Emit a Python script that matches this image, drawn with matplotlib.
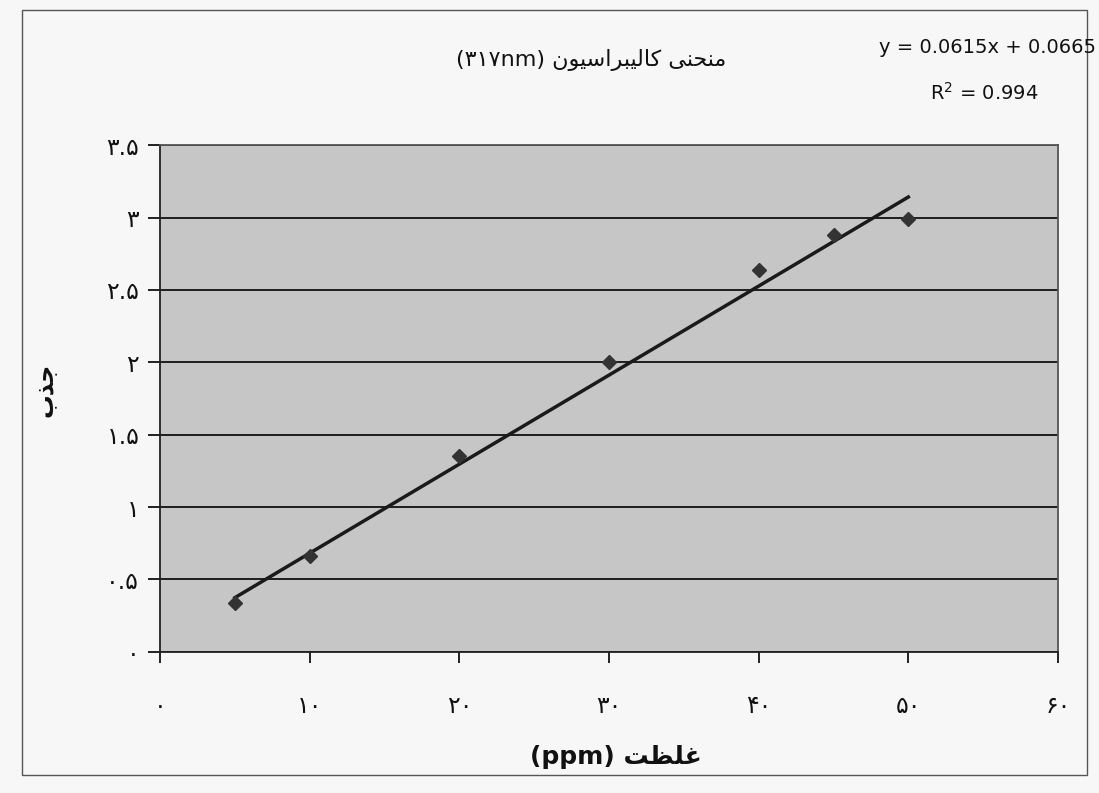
import matplotlib
matplotlib.use("Agg")
import matplotlib.pyplot as plt
from matplotlib.patches import Rectangle

# concentration (ppm) and absorbance
conc = [5, 10, 20, 30, 40, 45, 50]
absorb = [0.34, 0.66, 1.35, 2.00, 2.64, 2.88, 2.99]

# trendline as printed on the chart
slope = 0.0615
intercept = 0.0665
r2 = 0.994

x_ticks = [0, 10, 20, 30, 40, 50, 60]
x_labels = ["۰", "۱۰", "۲۰", "۳۰", "۴۰", "۵۰", "۶۰"]
y_ticks = [0, 0.5, 1, 1.5, 2, 2.5, 3, 3.5]
y_labels = ["۰", "۰.۵", "۱", "۱.۵", "۲", "۲.۵", "۳", "۳.۵"]

# Persian text, shaped by hand (presentation forms, visual order)
title_txt = "(۳۱۷nm) " + "\uFEE5\uFEEE\uFBFF\uFEB3\uFE8D\uFEAE\uFE92\uFBFF\uFEDF\uFE8E\uFB90" + " " + "\uFBFD\uFEE8\uFEA4\uFEE8\uFEE3"
xlabel_txt = "(ppm) " + "\uFE96\uFEC8\uFEE0\uFECF"
ylabel_txt = "\uFE8F\uFEAC\uFE9F"

plt.rcParams['font.family'] = ['DejaVu Sans']

fig = plt.figure(figsize=(10.99, 7.93), dpi=100)
fig.patch.set_facecolor("#f7f7f7")
ax = fig.add_axes([0.1456, 0.178, 0.8171, 0.639])
ax.set_facecolor("#c6c6c6")

# outer chart border
fig.patches.append(Rectangle((22 / 1099, 18 / 793), 1065 / 1099, 765 / 793,
                             transform=fig.transFigure, fill=False,
                             edgecolor="#555555", linewidth=1.0))

xs = [min(conc), max(conc)]
ax.plot(xs, [slope * v + intercept for v in xs], color="#1a1a1a", linewidth=2.5, zorder=3)
ax.plot(conc, absorb, linestyle="none", marker="D", markersize=7,
        color="#333333", zorder=4)

ax.set_xlim(0, 60)
ax.set_ylim(0, 3.5)
ax.set_xticks(x_ticks)
ax.set_xticklabels(x_labels, fontsize=17)
ax.set_yticks(y_ticks)
ax.set_yticklabels(y_labels, fontsize=17)
ax.yaxis.grid(True, color="#111111", linewidth=1.3)
ax.set_axisbelow(True)
ax.tick_params(axis="y", direction="out", length=9, width=1.3, pad=6, colors="#111111")
ax.tick_params(axis="x", direction="out", length=8, width=1.3, pad=22, colors="#111111")
for s in ax.spines.values():
    s.set_color("#222222")
    s.set_linewidth(1.3)
ax.spines["top"].set_color("#555555")
ax.spines["right"].set_color("#555555")

fig.text(0.538, 0.924, title_txt, fontsize=16, ha="center", va="center", color="#111111")
fig.text(0.56, 0.045, xlabel_txt, fontsize=18, fontweight="bold", ha="center", va="center",
         color="#111111")
fig.text(0.041, 0.508, ylabel_txt, fontsize=17, fontweight="bold", rotation=90,
         ha="center", va="center", color="#111111")
fig.text(0.997, 0.94, "y = %.4fx + %.4f" % (slope, intercept), fontsize=14,
         ha="right", va="center", color="#111111")
fig.text(0.896, 0.883, "R$^2$ = %.3f" % r2, fontsize=14, ha="center", va="center",
         color="#111111")

fig.savefig("out.png", dpi=100, facecolor=fig.get_facecolor())
